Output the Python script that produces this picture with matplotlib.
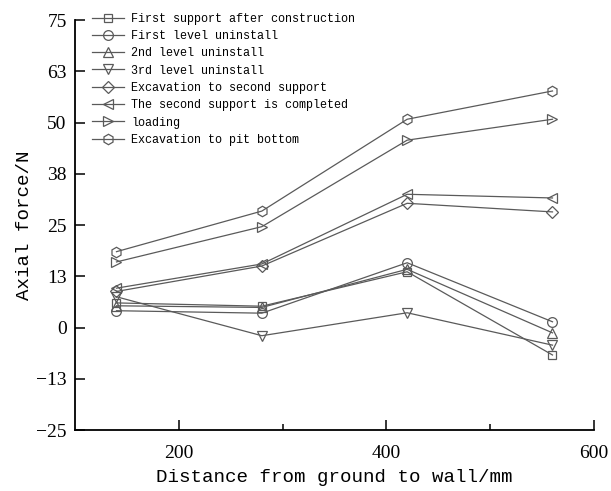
import matplotlib
matplotlib.use('Agg')
import matplotlib.pyplot as plt
from matplotlib.ticker import FixedLocator

# distance from ground to wall (mm)
distance = [140, 280, 420, 560]

first_support = [6.0, 5.2, 13.6, -6.7]
first_level = [4.1, 3.5, 15.8, 1.4]
second_level = [5.3, 4.9, 14.2, -1.3]
third_level = [7.5, -2.0, 3.6, -4.3]
exc_second_support = [8.8, 15.0, 30.3, 28.2]
second_support_done = [9.6, 15.5, 32.5, 31.6]
loading = [16.0, 24.6, 45.7, 50.8]
exc_pit_bottom = [18.5, 28.4, 50.8, 57.7]

labels = ['First support after construction', 'First level uninstall',
          '2nd level uninstall', '3rd level uninstall',
          'Excavation to second support', 'The second support is completed',
          'loading', 'Excavation to pit bottom']
series = [first_support, first_level, second_level, third_level,
          exc_second_support, second_support_done, loading, exc_pit_bottom]
markers = ['s', 'o', '^', 'v', 'D', '<', '>', 'h']
msizes = [6, 7, 7.5, 7.5, 6, 7.5, 7.5, 7.5]

yticks = [-25, -12.5, 0, 12.5, 25, 37.5, 50, 62.5, 75]
ytick_labels = ['\u221225', '\u221213', '0', '13', '25', '38', '50', '63', '75']

mono = 'Liberation Mono'
serif = 'Liberation Serif'
col = '#5a5a5a'

fig = plt.figure(figsize=(6.11, 4.91), dpi=100)
ax = fig.add_axes([0.1227, 0.1242, 0.8495, 0.8350])

for ys, lab, m, ms in zip(series, labels, markers, msizes):
    ax.plot(distance, ys, color=col, linewidth=0.9, marker=m, markersize=ms,
            markerfacecolor='none', markeredgecolor=col, markeredgewidth=0.9,
            label=lab)

ax.set_xlim(100, 600)
ax.set_ylim(-25, 75)
ax.xaxis.set_major_locator(FixedLocator([200, 400, 600]))
ax.xaxis.set_minor_locator(FixedLocator([300, 500]))
ax.yaxis.set_major_locator(FixedLocator(yticks))
ax.set_yticklabels(ytick_labels)

for s in ['top', 'right']:
    ax.spines[s].set_visible(False)
for s in ['left', 'bottom']:
    ax.spines[s].set_linewidth(1.3)

ax.tick_params(axis='both', which='major', direction='in', length=7, width=1.1,
               labelsize=14)
ax.tick_params(axis='x', which='major', pad=11)
ax.tick_params(axis='y', which='major', pad=6)
ax.tick_params(axis='x', which='minor', direction='in', length=4, width=1.1)
for t in ax.get_xticklabels() + ax.get_yticklabels():
    t.set_family(serif)

ax.set_xlabel('Distance from ground to wall/mm', family=mono, fontsize=13.8,
              labelpad=5)
ax.set_ylabel('Axial force/N', family=mono, fontsize=13.8, labelpad=2)

leg = ax.legend(loc='upper left', bbox_to_anchor=(0.033, 1.018), frameon=False,
                prop={'family': mono, 'size': 8.5}, handlelength=2.7,
                labelspacing=0.45, handletextpad=0.6, borderaxespad=0,
                borderpad=0)

plt.savefig('out.png', dpi=100)
plt.close()
